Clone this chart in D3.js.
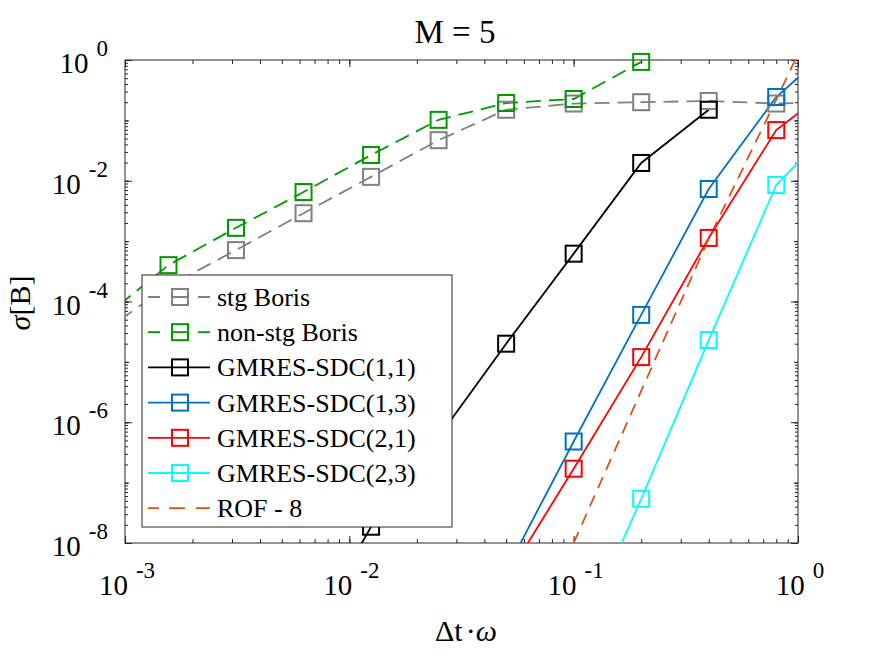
<!DOCTYPE html>
<html lang="en">
<head>
    <meta charset="UTF-8">
    <title>M = 5</title>
    <script src="https://d3js.org/d3.v7.min.js"></script>
    <style>
        body {
            margin: 0;
            background: #fff;
        }
        svg text {
            font-family: 'Liberation Serif', 'Times New Roman', serif;
            fill: #000;
        }
    </style>
</head>
<body>
    <svg id="chart" width="875" height="657"></svg>

    <script>
        // time step sizes (dt * omega), halving each time
        const dtValues = [0.00078125, 0.0015625, 0.003125, 0.00625, 0.0125, 0.025, 0.05, 0.1, 0.2, 0.4, 0.8, 1.6];

        // sigma[B] for each method (null = no point)
        const stgBoris    = [3e-5, 1.8e-4, 7.1e-4, 2.9e-3, 1.16e-2, 4.7e-2, 0.15, 0.19, 0.20, 0.21, 0.19, 0.20];
        const nonStgBoris = [5e-5, 4.0e-4, 1.66e-3, 6.5e-3, 2.67e-2, 0.102, 0.194, 0.226, 0.93, null, null, null];
        const sdc11       = [null, null, null, 2e-10, 1.86e-8, 5.7e-7, 2.0e-5, 6.2e-4, 1.97e-2, 0.15, null, null];
        const sdc13       = [null, null, null, null, null, null, 3.5e-9, 4.8e-7, 6.0e-5, 7.3e-3, 0.244, 2.4];
        const sdc21       = [null, null, null, null, null, null, 2.6e-9, 1.7e-7, 1.2e-5, 1.13e-3, 0.069, 0.5];
        const sdc23       = [null, null, null, null, null, null, null, 1.6e-10, 5.4e-8, 2.3e-5, 8.5e-3, 0.12];
        const rof8        = [null, null, null, null, null, null, null, 1.0e-8, 3.3e-6, 1.1e-3, 0.22, 50];

        const seriesNames = ["stg Boris", "non-stg Boris", "GMRES-SDC(1,1)", "GMRES-SDC(1,3)", "GMRES-SDC(2,1)", "GMRES-SDC(2,3)", "ROF - 8"];
        const seriesValues = [stgBoris, nonStgBoris, sdc11, sdc13, sdc21, sdc23, rof8];
        const seriesColors = ["#808080", "#009900", "#000000", "#0072bd", "#ff0000", "#00ffff", "#d95319"];
        const seriesDashed = [true, true, false, false, false, false, true];
        const seriesMarker = [true, true, true, true, true, true, false];

        // tick labels
        const xTickValues = [1e-3, 1e-2, 1e-1, 1e0];
        const xTickExps = ["-3", "-2", "-1", "0"];
        const yTickValues = [1e0, 1e-2, 1e-4, 1e-6, 1e-8];
        const yTickExps = ["0", "-2", "-4", "-6", "-8"];

        const svg = d3.select("#chart");
        const plotLeft = 125, plotRight = 798, plotTop = 60, plotBottom = 543;

        const x = d3.scaleLog().domain([1e-3, 1]).range([plotLeft, plotRight]);
        const y = d3.scaleLog().domain([1e-8, 1]).range([plotBottom, plotTop]);

        svg.append("defs").append("clipPath").attr("id", "plot-clip")
            .append("rect")
            .attr("x", plotLeft).attr("y", plotTop)
            .attr("width", plotRight - plotLeft).attr("height", plotBottom - plotTop);

        // ticks on all four sides, pointing inward
        function addAxis(axisFn, scale, values, size, transform) {
            const g = svg.append("g")
                .attr("transform", transform)
                .call(axisFn(scale).tickValues(values).tickSize(-size).tickFormat(""));
            g.select(".domain").remove();
            g.selectAll(".tick line").attr("stroke", "#262626").attr("stroke-width", 1);
        }
        const xMinor = x.ticks();
        const yMinor = y.ticks();
        const yDecades = [1, 1e-1, 1e-2, 1e-3, 1e-4, 1e-5, 1e-6, 1e-7, 1e-8];
        addAxis(d3.axisBottom, x, xMinor, 4, `translate(0,${plotBottom})`);
        addAxis(d3.axisBottom, x, xTickValues, 7, `translate(0,${plotBottom})`);
        addAxis(d3.axisTop, x, xMinor, 4, `translate(0,${plotTop})`);
        addAxis(d3.axisTop, x, xTickValues, 7, `translate(0,${plotTop})`);
        addAxis(d3.axisLeft, y, yMinor, 3, `translate(${plotLeft},0)`);
        addAxis(d3.axisLeft, y, yDecades, 4, `translate(${plotLeft},0)`);
        addAxis(d3.axisLeft, y, yTickValues, 7, `translate(${plotLeft},0)`);
        addAxis(d3.axisRight, y, yMinor, 3, `translate(${plotRight},0)`);
        addAxis(d3.axisRight, y, yDecades, 4, `translate(${plotRight},0)`);
        addAxis(d3.axisRight, y, yTickValues, 7, `translate(${plotRight},0)`);

        svg.append("rect")
            .attr("x", plotLeft).attr("y", plotTop)
            .attr("width", plotRight - plotLeft).attr("height", plotBottom - plotTop)
            .attr("fill", "none")
            .attr("stroke", "#262626")
            .attr("stroke-width", 1);

        // tick labels
        xTickValues.forEach((v, i) => {
            const t = svg.append("text")
                .attr("x", x(v) + 2)
                .attr("y", 595)
                .attr("text-anchor", "middle")
                .style("font-size", "29px");
            t.append("tspan").text("10");
            t.append("tspan").attr("dx", 8).attr("dy", -17).style("font-size", "23px").text(xTickExps[i]);
        });
        yTickValues.forEach((v, i) => {
            const t = svg.append("text")
                .attr("x", 108)
                .attr("y", y(v) + 13)
                .attr("text-anchor", "end")
                .style("font-size", "29px");
            t.append("tspan").text("10");
            t.append("tspan").attr("dx", 8).attr("dy", -17).style("font-size", "23px").text(yTickExps[i]);
        });

        // title and axis labels
        svg.append("text")
            .attr("x", 455).attr("y", 43)
            .attr("text-anchor", "middle")
            .style("font-size", "33px")
            .text("M = 5");

        svg.append("text")
            .attr("x", 466).attr("y", 641)
            .attr("text-anchor", "middle")
            .style("font-size", "30px")
            .html('Δt<tspan dx="3">·</tspan><tspan font-style="italic">ω</tspan>');

        svg.append("text")
            .attr("transform", "translate(30,303) rotate(-90)")
            .attr("text-anchor", "middle")
            .style("font-size", "30px")
            .html('<tspan font-style="italic">σ</tspan>[B]');

        // data lines (clipped to the axes box)
        const line = d3.line()
            .defined(d => d.v !== null)
            .x(d => x(d.dt))
            .y(d => y(d.v));

        const lineLayer = svg.append("g").attr("clip-path", "url(#plot-clip)");
        const markerLayer = svg.append("g");

        seriesValues.forEach((vals, s) => {
            const pts = dtValues.map((dt, i) => ({ dt: dt, v: vals[i] }));
            lineLayer.append("path")
                .datum(pts)
                .attr("d", line)
                .attr("fill", "none")
                .attr("stroke", seriesColors[s])
                .attr("stroke-width", 1.8)
                .attr("stroke-dasharray", seriesDashed[s] ? (s === 6 ? "12,8" : "15,8") : null);

            if (seriesMarker[s]) {
                markerLayer.selectAll(null)
                    .data(pts.filter(d => d.v !== null && d.dt >= 1e-3 && d.dt <= 1 && d.v >= 1e-8 && d.v <= 1))
                    .enter().append("rect")
                    .attr("x", d => x(d.dt) - 8)
                    .attr("y", d => y(d.v) - 8)
                    .attr("width", 16)
                    .attr("height", 16)
                    .attr("fill", "none")
                    .attr("stroke", seriesColors[s])
                    .attr("stroke-width", 2);
            }
        });

        // legend
        const legend = svg.append("g");
        legend.append("rect")
            .attr("x", 142).attr("y", 275)
            .attr("width", 310).attr("height", 252)
            .attr("fill", "#fff")
            .attr("stroke", "#262626")
            .attr("stroke-width", 1);

        seriesNames.forEach((name, s) => {
            const cy = 297 + s * 35.2;
            legend.append("line")
                .attr("x1", 148).attr("x2", 210)
                .attr("y1", cy).attr("y2", cy)
                .attr("stroke", seriesColors[s])
                .attr("stroke-width", 1.8)
                .attr("stroke-dasharray", seriesDashed[s] ? (s === 6 ? "11,10,16,11,14" : "12,12,16,10,12") : null);
            if (seriesMarker[s]) {
                legend.append("rect")
                    .attr("x", 172).attr("y", cy - 8)
                    .attr("width", 16).attr("height", 16)
                    .attr("fill", "none")
                    .attr("stroke", seriesColors[s])
                    .attr("stroke-width", 2);
            }
            legend.append("text")
                .attr("x", 217)
                .attr("y", cy + 9)
                .style("font-size", "26px")
                .text(name);
        });
    </script>
</body>
</html>
